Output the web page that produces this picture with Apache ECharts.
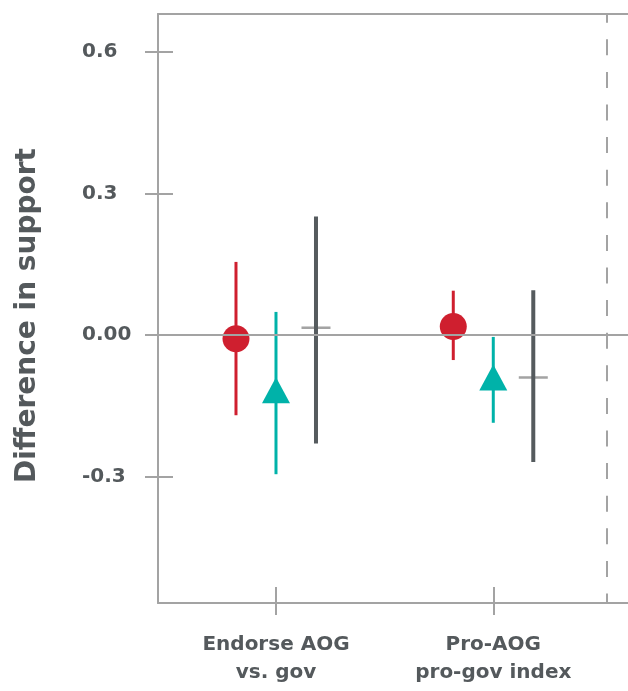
<!DOCTYPE html>
<html>
<head>
<meta charset="utf-8">
<script src="https://cdn.jsdelivr.net/npm/echarts@6/dist/echarts.min.js"></script>
<style>html,body{margin:0;padding:0;background:#fff}#c{width:628px;height:691px}</style>
</head>
<body>
<div id="c"></div>
<script>
// ---- data ----
const categories = ['Endorse AOG\nvs. gov', 'Pro-AOG\npro-gov index'];
const yTicks = [-0.3, 0, 0.3, 0.6];
const yTickLabels = ['-0.3', '0.00', '0.3', '0.6'];
const redEst = [-0.008, 0.018];
const redLo = [-0.170, -0.053];
const redHi = [0.155, 0.094];
const tealEst = [-0.117, -0.090];
const tealLo = [-0.295, -0.186];
const tealHi = [0.049, -0.004];
const grayEst = [0.0155, -0.090];
const grayLo = [-0.230, -0.269];
const grayHi = [0.251, 0.095];
const separatorX = [2.523];

// ---- styles ----
const RED = '#CF1F2F', TEAL = '#00B2A9', DARK = '#555B5E', AXIS = '#A3A3A3', TEXT = '#54595C';
const FONT = 'DejaVu Sans';
const X_MIN = 0.457, X_MAX = 2.62, Y_MIN = -0.568, Y_MAX = 0.6805;
const OFFSET = 40;

const catPos = categories.map((c, i) => i + 1);

function ciSeries(lo, hi, color, width, dx, z) {
  return {
    type: 'custom', z: z, silent: true,
    data: catPos.map((p, i) => [p, lo[i], hi[i]]),
    renderItem: function (params, api) {
      const a = api.coord([api.value(0), api.value(2)]);
      const b = api.coord([api.value(0), api.value(1)]);
      return { type: 'line', shape: { x1: a[0] + dx, y1: a[1], x2: b[0] + dx, y2: b[1] },
        style: { stroke: color, lineWidth: width } };
    }
  };
}

const option = {
  animation: false,
  grid: { left: 158, right: 0, top: 14, bottom: 88 },
  xAxis: [
    { type: 'value', position: 'bottom', min: X_MIN, max: X_MAX,
      axisLine: { show: true, onZero: false, lineStyle: { color: AXIS, width: 2 } },
      axisTick: { show: true, length: 12, customValues: catPos, lineStyle: { color: AXIS, width: 2 } },
      axisLabel: { customValues: catPos, margin: 28,
        formatter: v => categories[Math.round(v) - 1] || '',
        fontFamily: FONT, fontWeight: 'bold', fontSize: 20, lineHeight: 28, color: TEXT, align: 'center' },
      splitLine: { show: false } },
    { type: 'value', position: 'bottom', min: X_MIN, max: X_MAX,
      axisLine: { show: false, onZero: false },
      axisTick: { show: true, inside: true, length: 16, customValues: catPos, lineStyle: { color: AXIS, width: 2 } },
      axisLabel: { show: false }, splitLine: { show: false } },
    { type: 'value', position: 'top', min: X_MIN, max: X_MAX,
      axisLine: { show: true, onZero: false, lineStyle: { color: AXIS, width: 2 } },
      axisTick: { show: false }, axisLabel: { show: false }, splitLine: { show: false } }
  ],
  yAxis: [
    { type: 'value', position: 'left', min: Y_MIN, max: Y_MAX,
      name: 'Difference in support', nameLocation: 'middle', nameGap: 116,
      nameTextStyle: { fontFamily: FONT, fontWeight: 'bold', fontSize: 28, color: TEXT, padding: [0, 14, 0, 0] },
      axisLine: { show: true, onZero: false, lineStyle: { color: AXIS, width: 2 } },
      axisTick: { show: true, length: 13, customValues: yTicks, lineStyle: { color: AXIS, width: 2 } },
      axisLabel: { customValues: yTicks, margin: 76, align: 'left',
        formatter: v => { const i = yTicks.findIndex(t => Math.abs(t - v) < 1e-9); return i >= 0 ? yTickLabels[i] : ''; },
        fontFamily: FONT, fontWeight: 'bold', fontSize: 20, color: TEXT },
      splitLine: { show: false } },
    { type: 'value', position: 'left', min: Y_MIN, max: Y_MAX,
      axisLine: { show: false, onZero: false },
      axisTick: { show: true, inside: true, length: 15, customValues: yTicks, lineStyle: { color: AXIS, width: 2 } },
      axisLabel: { show: false }, splitLine: { show: false } }
  ],
  series: [
    { type: 'line', data: [], z: 1, silent: true,
      markLine: { silent: true, symbol: 'none', label: { show: false },
        data: [
          { yAxis: 0, lineStyle: { color: AXIS, width: 2, type: 'solid' } },
          [ { coord: [separatorX[0], Y_MAX] }, { coord: [separatorX[0], Y_MIN],
              lineStyle: { color: AXIS, width: 2, type: [16, 16.6], dashOffset: 7.3 } } ]
        ],
        lineStyle: { color: AXIS, width: 2 } } },
    { type: 'scatter', z: 2, silent: true, symbol: 'rect', symbolSize: [29, 2.5], symbolOffset: [OFFSET, 0],
      itemStyle: { color: AXIS, opacity: 1 }, data: catPos.map((p, i) => [p, grayEst[i]]) },
    ciSeries(redLo, redHi, RED, 3, -OFFSET, 3),
    ciSeries(tealLo, tealHi, TEAL, 3, 0, 3),
    ciSeries(grayLo, grayHi, DARK, 4, OFFSET, 3),
    { type: 'scatter', z: 4, silent: true, symbol: 'circle', symbolSize: 27, symbolOffset: [-OFFSET, 0],
      itemStyle: { color: RED, opacity: 1 }, data: catPos.map((p, i) => [p, redEst[i]]) },
    { type: 'scatter', z: 4, silent: true, symbol: 'triangle', symbolSize: [28, 26],
      itemStyle: { color: TEAL, opacity: 1 }, data: catPos.map((p, i) => [p, tealEst[i]]) }
  ]
};
echarts.init(document.getElementById('c'), null, { renderer: 'canvas' }).setOption(option);
</script>
</body>
</html>
